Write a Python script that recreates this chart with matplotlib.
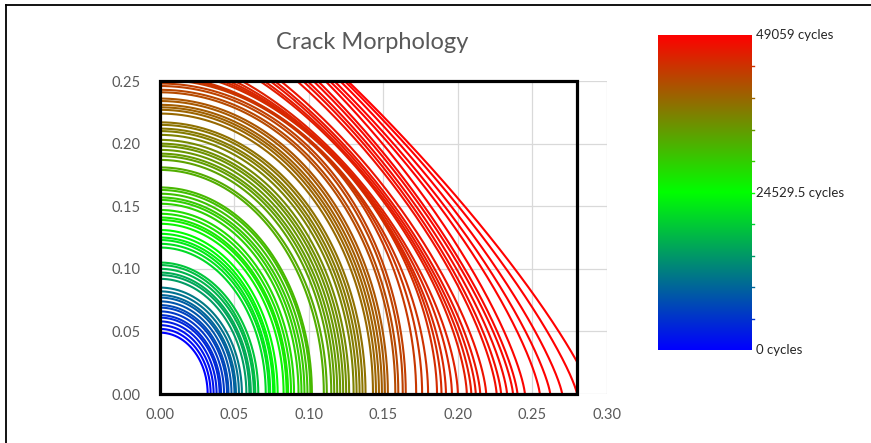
import numpy as np
import matplotlib
matplotlib.use("Agg")
import matplotlib.pyplot as plt
from matplotlib.colors import LinearSegmentedColormap
from matplotlib.patches import Rectangle
from matplotlib.lines import Line2D

plt.rcParams['font.family'] = ['Lato', 'DejaVu Sans']

# crack fronts: surface length (x intercept), depth (y intercept), front shape exponent, cycles
surface_a = [0.032, 0.034, 0.036, 0.038, 0.040, 0.041, 0.043, 0.045, 0.046, 0.048, 0.050, 0.051, 0.053, 0.055,
             0.058, 0.060, 0.061, 0.063, 0.064, 0.066,
             0.071, 0.073, 0.074, 0.076, 0.077, 0.079,
             0.083, 0.085, 0.086, 0.088, 0.090,
             0.093, 0.095, 0.097, 0.099, 0.101, 0.102,
             0.110, 0.112,
             0.115, 0.117, 0.119, 0.121, 0.123, 0.125, 0.127,
             0.130, 0.132, 0.134, 0.136, 0.138,
             0.143, 0.145, 0.147, 0.149, 0.151, 0.153,
             0.158, 0.160, 0.163, 0.165,
             0.172, 0.176, 0.180,
             0.186, 0.189, 0.192, 0.196, 0.200,
             0.206, 0.209, 0.212, 0.215, 0.219,
             0.226, 0.229, 0.233, 0.237, 0.240, 0.245,
             0.255, 0.262, 0.270, 0.280, 0.290]

depth_b = [0.049, 0.052, 0.055, 0.058, 0.061, 0.063, 0.066, 0.069, 0.071, 0.074, 0.077, 0.079, 0.082, 0.085,
           0.092, 0.095, 0.097, 0.100, 0.103, 0.105,
           0.117, 0.120, 0.123, 0.125, 0.128, 0.131,
           0.136, 0.139, 0.141, 0.144, 0.147,
           0.152, 0.155, 0.157, 0.160, 0.163, 0.165,
           0.179, 0.181,
           0.187, 0.190, 0.192, 0.195, 0.198, 0.200, 0.203,
           0.207, 0.210, 0.212, 0.215, 0.217,
           0.224, 0.227, 0.229, 0.231, 0.234, 0.236,
           0.241, 0.243, 0.246, 0.248,
           0.2511, 0.2526, 0.2541,
           0.2583, 0.2609, 0.2639, 0.2674, 0.2721,
           0.2831, 0.2871, 0.2924, 0.2963, 0.3011,
           0.3148, 0.3213, 0.3261, 0.3327, 0.3370, 0.3433,
           0.3447, 0.3506, 0.3579, 0.3627, 0.3665]

shape_n = [2.0] * 61 + [1.95, 1.90, 1.85,
                        1.80, 1.75, 1.70, 1.65, 1.60,
                        1.55, 1.52, 1.49, 1.47, 1.45,
                        1.42, 1.40, 1.38, 1.36, 1.35, 1.34,
                        1.32, 1.29, 1.26, 1.23, 1.20]

cycles = [0, 900, 1800, 2700, 3600, 4500, 5400, 6300, 7200, 8100, 9000, 9900, 10800, 11700,
          15000, 15800, 16600, 17400, 18200, 19000,
          21000, 21700, 22400, 23100, 23800, 24500,
          25500, 26100, 26700, 27300, 27900,
          28800, 29300, 29800, 30300, 30800, 31300,
          32300, 32700,
          33400, 33800, 34200, 34600, 35000, 35400, 35800,
          36600, 37000, 37400, 37800, 38200,
          39000, 39400, 39800, 40200, 40600, 41000,
          41800, 42200, 42600, 43000,
          43600, 43900, 44200,
          44700, 45000, 45300, 45600, 45900,
          46300, 46550, 46800, 47050, 47300,
          47600, 47800, 48000, 48200, 48400, 48600,
          48750, 48830, 48900, 48980, 49059]

plate_w, plate_t = 0.28, 0.25
x_ticks = [0.00, 0.05, 0.10, 0.15, 0.20, 0.25, 0.30]
y_ticks = [0.00, 0.05, 0.10, 0.15, 0.20, 0.25]
cbar_labels = ["0 cycles", "24529.5 cycles", "49059 cycles"]

cmap = LinearSegmentedColormap.from_list("bgr", ["#0000ff", "#00ff00", "#ff0000"])
n_max = max(cycles)

fig = plt.figure(figsize=(8.71, 4.43), dpi=100)
ax = fig.add_axes([0.1837, 0.1106, 0.513, 0.7065])

plate = Rectangle((0, 0), plate_w, plate_t, transform=ax.transData, fill=False,
                  edgecolor="black", linewidth=2.3, zorder=5, clip_on=False)

theta = np.linspace(0, np.pi / 2, 300)
for a, b, n, c in zip(surface_a, depth_b, shape_n, cycles):
    x = a * np.cos(theta) ** (2.0 / n)
    y = b * np.sin(theta) ** (2.0 / n)
    line, = ax.plot(x, y, color=cmap(c / n_max), linewidth=1.5, zorder=3,
                    solid_capstyle="butt")
    line.set_clip_path(plate)

ax.add_patch(plate)

ax.set_xlim(0, 0.30)
ax.set_ylim(0, 0.25)
ax.set_xticks(x_ticks)
ax.set_yticks(y_ticks)
ax.set_xticklabels([f"{v:.2f}" for v in x_ticks])
ax.set_yticklabels([f"{v:.2f}" for v in y_ticks])
ax.grid(True, color="#d9d9d9", linewidth=0.9, zorder=0)
ax.set_axisbelow(True)
for s in ax.spines.values():
    s.set_visible(False)
ax.tick_params(length=0, labelsize=10.5, labelcolor="#595959")
ax.tick_params(axis="x", pad=10)
ax.tick_params(axis="y", pad=14)

fig.text(0.427, 0.903, "Crack Morphology", ha="center", va="center",
         fontsize=17, color="#595959")

# colour scale
cax = fig.add_axes([0.7555, 0.2099, 0.1079, 0.7111])
grad = np.linspace(0, 1, 256).reshape(-1, 1)
cax.imshow(grad, cmap=cmap, aspect="auto", origin="lower", extent=(0, 1, 0, 1))
cax.set_xlim(0, 1)
cax.set_ylim(0, 1)
cax.set_xticks([])
cax.set_yticks([])
for s in cax.spines.values():
    s.set_visible(False)
for f in np.linspace(0, 1, 11)[1:-1]:
    cax.plot([1.0, 1.025], [f, f], color=cmap(f), linewidth=1.0, clip_on=False)
for f, lab in zip([0.0, 0.5, 1.0], cbar_labels):
    cax.text(1.04, f, lab, ha="left", va="center", fontsize=9.5, color="#262626",
             transform=cax.transAxes)

# outer frame of the chart (only top and left edges are visible)
fig.add_artist(Line2D([6 / 871, 1.0], [1 - 5 / 443, 1 - 5 / 443], color="black",
                      linewidth=1.3, transform=fig.transFigure))
fig.add_artist(Line2D([6 / 871, 6 / 871], [0.0, 1 - 5 / 443], color="black",
                      linewidth=1.3, transform=fig.transFigure))

fig.savefig("out.png", dpi=100)
